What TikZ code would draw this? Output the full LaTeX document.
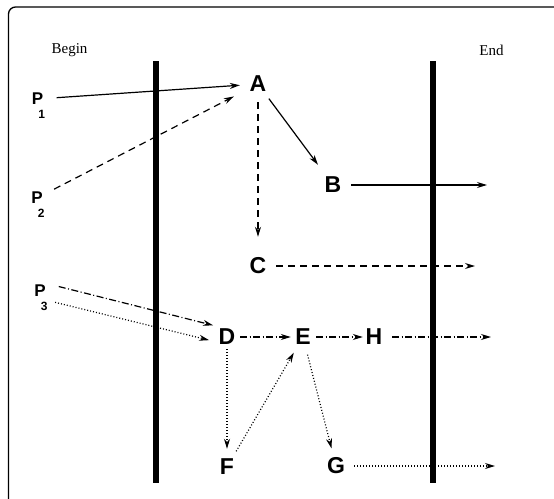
\documentclass[tikz,border=0pt]{standalone}
\usepackage{fontspec}
\setmainfont{Liberation Serif}
\setsansfont{Liberation Sans}
\usetikzlibrary{arrows.meta}

% subscript set well below the letter, kept out of the node size
\newcommand\psub[1]{\smash{\llap{\raisebox{-14pt}{\fontsize{12}{12}\selectfont #1}\kern-2pt}}}

\begin{document}
\begin{tikzpicture}[x=1pt,y=-1pt,
      letter/.style={circle,inner sep=0pt,minimum size=36pt,
        font=\fontsize{23}{23}\selectfont\sffamily\bfseries},
      pnode/.style={circle,inner sep=0pt,minimum size=38pt,
        font=\fontsize{17}{17}\selectfont\sffamily\bfseries},
      side/.style={inner sep=0pt,font=\fontsize{15}{15}\selectfont},
      bar/.style={line width=6pt},
      arrow/.style={-{Stealth[length=10pt,width=6pt]},line width=1.2pt},
      dashline/.style={arrow,dash pattern=on 7pt off 5pt},
      dashdotline/.style={arrow,dash pattern=on 7pt off 2.5pt on 1pt off 2.5pt},
      dotline/.style={arrow,dash pattern=on 1pt off 2pt}
    ]
      \clip (0,0) rectangle (554,498);
      \draw[line width=1.3pt,rounded corners=7pt] (8.5,7) rectangle (600,560);
      % the two borders
      \draw[bar] (156,61) -- (156,483);
      \draw[bar] (432.5,61) -- (432.5,483);
      \node[side] (begin) at (69.5,50) {Begin};
      \node[side] (end) at (491.5,50) {End};
      \node[pnode] (P1) at (37.5,99) {P\psub{1}};
      \node[pnode] (P2) at (37,198) {P\psub{2}};
      \node[pnode] (P3) at (40,290.5) {P\psub{3}};
      \node[letter] (A) at (258,84) {A};
      \node[letter] (B) at (333,185) {B};
      \node[letter] (C) at (258,266) {C};
      \node[letter] (D) at (227,337) {D};
      \node[letter] (E) at (303,337) {E};
      \node[letter] (H) at (374,337) {H};
      \node[letter] (F) at (227,467) {F};
      \node[letter] (G) at (336,466) {G};
      \coordinate (bEnd) at (487,185);
      \coordinate (cEnd) at (475,266);
      \coordinate (hEnd) at (491,337);
      \coordinate (gEnd) at (495,466);
      \draw[arrow] (P1) -- (A);
      \draw[dashline,shorten >=9pt] (P2) -- (A);
      \draw[dashline,shorten >=11pt] (A) -- (C);
      \draw[arrow,shorten >=7pt] (A) -- (B);
      \draw[arrow] (B) -- (bEnd);
      \draw[dashline] (C) -- (cEnd);
      \draw[dashdotline] (P3.12) -- (D.140);
      \draw[dotline] (P3.-38) -- (D.-170);
      \draw[dashdotline,shorten <=-5pt,shorten >=-6pt] (D) -- (E);
      \draw[dashdotline,shorten <=-5pt,shorten >=-7pt] (E) -- (H);
      \draw[dashdotline] (H) -- (hEnd);
      \draw[dotline,shorten <=-6pt] (D) -- (F);
      \draw[dotline] (F) -- (E);
      \draw[dotline] (E) -- (G);
      \draw[dotline] (G) -- (gEnd);
    \end{tikzpicture}
\end{document}
